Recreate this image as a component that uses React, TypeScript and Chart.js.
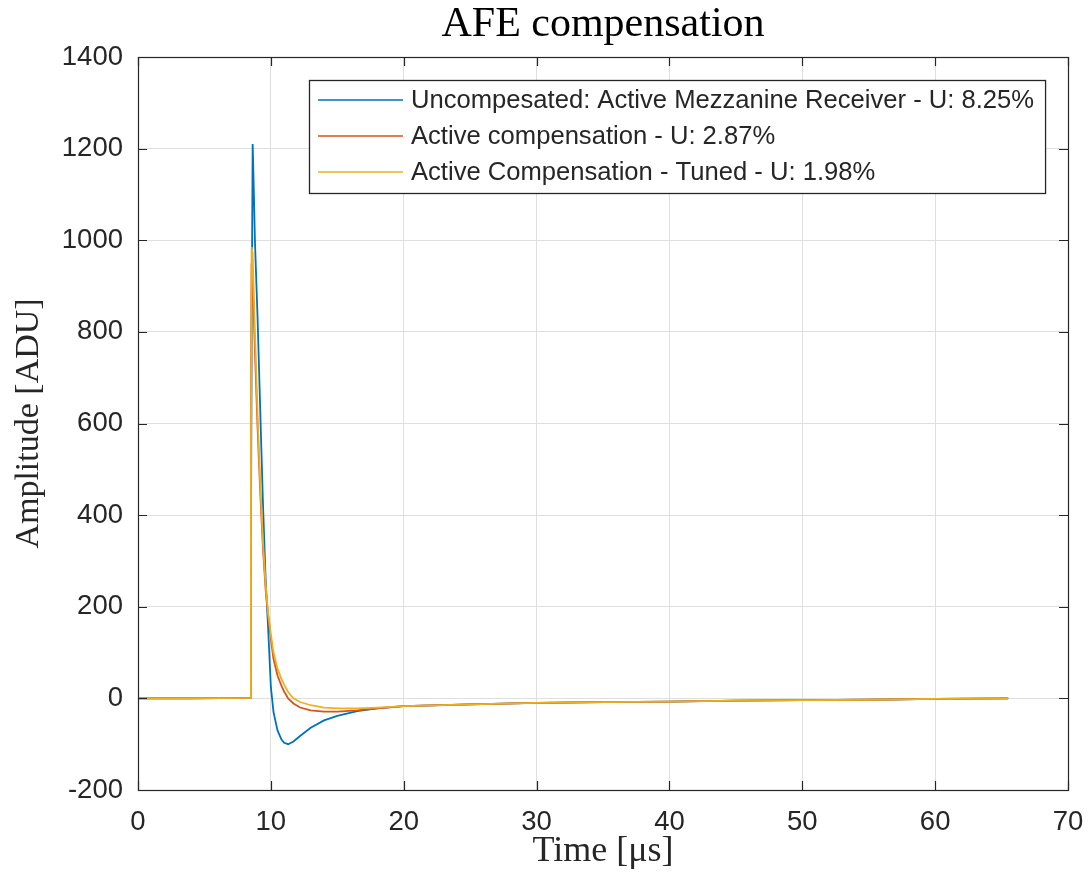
import React, { useEffect, useRef } from "react";
import { Chart, registerables } from "chart.js";

Chart.register(...registerables);

// ---- data ----
const TIME_US = [0, 4, 8.45, 8.5, 8.55, 8.63, 8.7, 8.8, 9.0, 9.2, 9.4, 9.6, 9.8, 10.0, 10.2, 10.5, 10.8, 11.0, 11.3, 11.7, 12.2, 13.0, 14.0, 15.0, 16.5, 18.0, 20.0, 25, 30, 35, 40, 45, 50, 55, 60, 65.5];
const UNCOMPENSATED = [0, 0, 1, 300, 800, 1210, 1130, 1000, 830, 630, 430, 265, 150, 25, -30, -70, -90, -97, -100, -94, -82, -64, -48, -38, -28, -22, -17, -13, -10, -8, -7, -5, -4, -3, -1, 0];
const ACTIVE = [0, 0, 1, 400, 950, 900, 850, 760, 590, 450, 330, 240, 180, 130, 86, 50, 27, 15, 0, -11, -20, -26, -29, -29, -26, -22, -17, -13, -10, -8, -7, -5, -4, -3, -1, 0];
const TUNED = [0, 0, 1, 500, 985, 970, 900, 800, 620, 470, 345, 250, 185, 140, 100, 65, 42, 30, 14, 0, -8, -15, -20, -22, -22, -20, -17, -13, -10, -8, -7, -5, -4, -3, -1, 0];
const SERIES_LABELS = [
  "Uncompesated: Active Mezzanine Receiver - U: 8.25%",
  "Active compensation - U: 2.87%",
  "Active Compensation - Tuned - U: 1.98%",
];
const SERIES_COLORS = ["#0072BD", "#D95319", "#EDB120"];
const X_TICKS = [0, 10, 20, 30, 40, 50, 60, 70];
const Y_TICKS = [-200, 0, 200, 400, 600, 800, 1000, 1200, 1400];
const TITLE = "AFE compensation";
const X_LABEL = "Time [μs]";
const Y_LABEL = "Amplitude [ADU]";

const W = 1089;
const H = 880;
const AXIS_COLOR = "#262626";
const GRID_COLOR = "#dfdfdf";
const SANS = "'Liberation Sans', Arial, Helvetica, sans-serif";
const SERIF = "'Liberation Serif', 'Times New Roman', serif";

const boxPlugin = {
  id: "matlabBox",
  afterDatasetsDraw(chart: any) {
    const { ctx, chartArea } = chart;
    const { left, right, top, bottom } = chartArea;
    const xs = chart.scales.x;
    const ys = chart.scales.y;
    const tl = 9;
    ctx.save();
    ctx.strokeStyle = AXIS_COLOR;
    ctx.lineWidth = 1.2;
    ctx.beginPath();
    for (const v of X_TICKS) {
      const px = Math.round(xs.getPixelForValue(v)) + 0.5;
      ctx.moveTo(px, bottom);
      ctx.lineTo(px, bottom - tl);
      ctx.moveTo(px, top);
      ctx.lineTo(px, top + tl);
    }
    for (const v of Y_TICKS) {
      const py = Math.round(ys.getPixelForValue(v)) + 0.5;
      ctx.moveTo(left, py);
      ctx.lineTo(left + tl, py);
      ctx.moveTo(right, py);
      ctx.lineTo(right - tl, py);
    }
    ctx.stroke();
    ctx.strokeRect(Math.round(left) + 0.5, Math.round(top) + 0.5, Math.round(right - left), Math.round(bottom - top));
    ctx.restore();
  },
};

const legendPlugin = {
  id: "matlabLegend",
  afterDraw(chart: any) {
    const { ctx } = chart;
    const datasets = chart.data.datasets;
    const boxLeft = 309;
    const boxTop = 80;
    const rowH = 36;
    const firstRow = 100;
    const lineX0 = 318;
    const lineX1 = 403;
    const textX = 411;
    ctx.save();
    ctx.font = `25.6px ${SANS}`;
    let maxW = 0;
    for (const d of datasets) maxW = Math.max(maxW, ctx.measureText(d.label).width);
    const boxRight = textX + maxW + 11;
    const boxBottom = firstRow + rowH * (datasets.length - 1) + 21;
    ctx.fillStyle = "#ffffff";
    ctx.fillRect(boxLeft, boxTop, boxRight - boxLeft, boxBottom - boxTop);
    ctx.strokeStyle = AXIS_COLOR;
    ctx.lineWidth = 1.3;
    ctx.strokeRect(boxLeft + 0.5, boxTop + 0.5, boxRight - boxLeft, boxBottom - boxTop);
    datasets.forEach((d: any, i: number) => {
      const y = firstRow + rowH * i;
      ctx.strokeStyle = d.borderColor;
      ctx.lineWidth = 1.6;
      ctx.beginPath();
      ctx.moveTo(lineX0, y);
      ctx.lineTo(lineX1, y);
      ctx.stroke();
      ctx.fillStyle = AXIS_COLOR;
      ctx.textBaseline = "middle";
      ctx.textAlign = "left";
      ctx.fillText(d.label, textX, y + 1);
    });
    ctx.restore();
  },
};

export default function App() {
  const canvasRef = useRef<HTMLCanvasElement | null>(null);

  useEffect(() => {
    const canvas = canvasRef.current;
    if (!canvas) return;
    const seriesValues = [UNCOMPENSATED, ACTIVE, TUNED];
    const chart = new Chart(canvas, {
      type: "line",
      data: {
        datasets: seriesValues.map((vals, si) => ({
          label: SERIES_LABELS[si],
          data: TIME_US.map((t, i) => ({ x: t, y: vals[i] })),
          borderColor: SERIES_COLORS[si],
          backgroundColor: SERIES_COLORS[si],
          borderWidth: 1.8,
          pointRadius: 0,
          tension: 0,
          fill: false,
          order: 2 - si,
        })),
      },
      options: {
        responsive: false,
        animation: false,
        devicePixelRatio: 1,
        events: [],
        layout: { padding: { left: 0, right: 21, top: 0, bottom: 0 } },
        plugins: {
          legend: { display: false },
          tooltip: { enabled: false },
          title: {
            display: true,
            fullSize: false,
            text: TITLE,
            color: "#000000",
            font: { family: SERIF, size: 42, weight: "normal", lineHeight: 1.2 },
            padding: { top: 0, bottom: 6.6 },
          },
        },
        scales: {
          x: {
            type: "linear",
            min: 0,
            max: 70,
            afterBuildTicks: (s: any) => {
              s.ticks = X_TICKS.map((v) => ({ value: v }));
            },
            afterFit: (s: any) => {
              s.height = 90;
              s.paddingLeft = 0;
              s.paddingRight = 0;
            },
            grid: { color: GRID_COLOR, lineWidth: 1, drawTicks: false },
            border: { display: false },
            ticks: {
              color: AXIS_COLOR,
              padding: 16,
              maxRotation: 0,
              autoSkip: false,
              font: { family: SANS, size: 27.5, lineHeight: 1.2 },
              callback: (v: any) => String(v),
            },
            title: {
              display: true,
              text: X_LABEL,
              color: AXIS_COLOR,
              font: { family: SERIF, size: 36, lineHeight: 1.2 },
              padding: { top: 0, bottom: 6.4 },
            },
          },
          y: {
            type: "linear",
            min: -200,
            max: 1400,
            afterBuildTicks: (s: any) => {
              s.ticks = Y_TICKS.map((v) => ({ value: v }));
            },
            afterFit: (s: any) => {
              s.width = 138;
              s.paddingTop = 0;
              s.paddingBottom = 0;
            },
            grid: { color: GRID_COLOR, lineWidth: 1, drawTicks: false },
            border: { display: false },
            ticks: {
              color: AXIS_COLOR,
              padding: 15,
              autoSkip: false,
              font: { family: SANS, size: 27.5, lineHeight: 1.2 },
              callback: (v: any) => String(v),
            },
            title: {
              display: true,
              text: Y_LABEL,
              color: AXIS_COLOR,
              font: { family: SERIF, size: 34, lineHeight: 1.2 },
              padding: { top: 8.6, bottom: 0 },
            },
          },
        },
      },
      plugins: [boxPlugin, legendPlugin],
    } as any);
    return () => chart.destroy();
  }, []);

  return (
    <canvas
      ref={canvasRef}
      width={W}
      height={H}
      style={{ position: "absolute", left: 0, top: 0, width: W, height: H, display: "block", background: "#ffffff" }}
    />
  );
}
